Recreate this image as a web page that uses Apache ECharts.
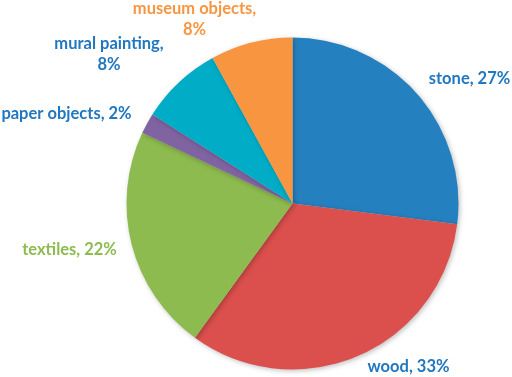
<!DOCTYPE html>
<html>
<head>
<meta charset="utf-8">
<script src="https://cdn.jsdelivr.net/npm/echarts@6/dist/echarts.min.js"></script>
<style>
html,body{margin:0;padding:0;background:#fff;}
#c{width:512px;height:377px;}
</style>
</head>
<body>
<div id="c"></div>
<script>
var categories = ['stone', 'wood', 'textiles', 'paper objects', 'mural painting', 'museum objects'];
var values = [27, 33, 22, 2, 8, 8];
var sliceColors = ['#2580c0', '#db4f4c', '#8dbb4f', '#8064a2', '#00acc6', '#f79540'];
var labelColors = ['#2177c0', '#2177c0', '#8dbb4f', '#2177c0', '#2177c0', '#f79540'];
var labelTexts = ['stone, 27%', 'wood, 33%', 'textiles, 22%', 'paper objects, 2%', 'mural painting,\n8%', 'museum objects,\n8%'];
var labelPos = [[469.5, 79], [408.5, 367], [69.5, 250], [66.5, 114], [109, 54], [194.5, 19.5]];

var chart = echarts.init(document.getElementById('c'), null, {renderer: 'canvas'});
var data = categories.map(function (c, i) {
  return {
    name: c,
    value: values[i],
    itemStyle: {color: sliceColors[i]},
    label: {color: labelColors[i], formatter: labelTexts[i]}
  };
});
chart.setOption({
  animation: false,
  series: [{
    type: 'pie',
    center: [292.5, 203.5],
    radius: [0, 166],
    startAngle: 90,
    clockwise: true,
    avoidLabelOverlap: false,
    itemStyle: {
      borderWidth: 0,
      shadowBlur: 5,
      shadowColor: 'rgba(0,0,0,0.25)',
      shadowOffsetX: 1.5,
      shadowOffsetY: 1.5
    },
    label: {
      show: true,
      position: 'outside',
      fontFamily: 'Lato',
      fontWeight: 'bold',
      fontSize: 16.5,
      lineHeight: 21,
      align: 'center'
    },
    labelLine: {show: false},
    labelLayout: function (params) {
      var p = labelPos[params.dataIndex];
      return {x: p[0], y: p[1], align: 'center', verticalAlign: 'middle'};
    },
    emphasis: {disabled: true},
    data: data
  }]
});
</script>
</body>
</html>
